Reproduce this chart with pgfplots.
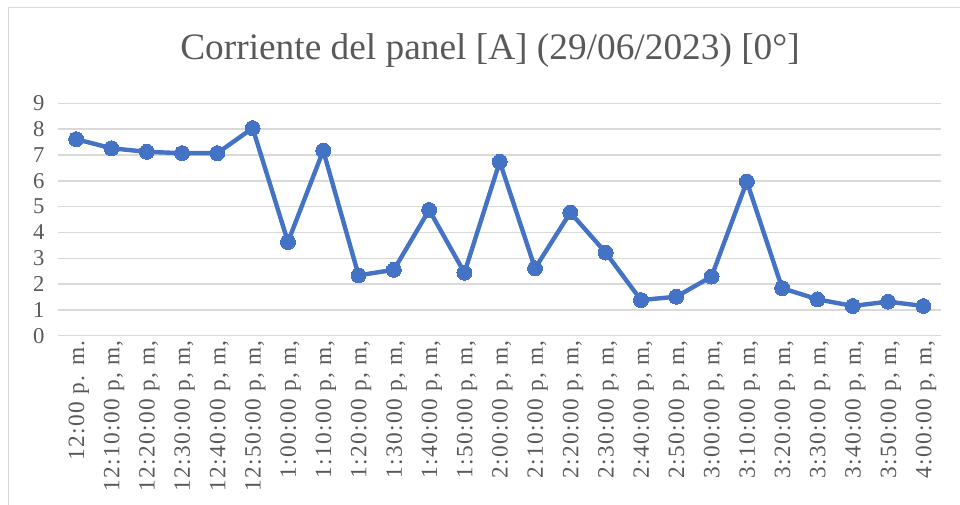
\documentclass[border=0pt]{standalone}
\usepackage{fontspec}
\setmainfont{Liberation Serif}
\newfontfamily\spacedserif[LetterSpace=6]{Liberation Serif}
\usepackage{pgfplots}
\pgfplotsset{compat=1.18}
\definecolor{lineBlue}{HTML}{4472C4}
\definecolor{gridGray}{HTML}{D9D9D9}
\definecolor{txtGray}{HTML}{595959}

\pgfplotstableread{
idx val
0  7.61
1  7.26
2  7.12
3  7.07
4  7.07
5  8.04
6  3.63
7  7.17
8  2.34
9  2.55
10 4.87
11 2.44
12 6.74
13 2.61
14 4.77
15 3.22
16 1.38
17 1.51
18 2.29
19 5.97
20 1.84
21 1.41
22 1.15
23 1.32
24 1.15
}\corriente

\begin{document}
\begin{tikzpicture}[x=0.75pt,y=0.75pt]
\useasboundingbox (0,0) rectangle (960,504);
\draw[gridGray, line width=1.1pt] (8.5,-10) -- (8.5,496.5) -- (970,496.5);
\node[text=txtGray, font=\fontsize{28}{32}\selectfont] at (490,453) {Corriente del panel [A] (29/06/2023) [0°]};
\begin{axis}[
  at={(58.5*0.75pt,168.3*0.75pt)}, anchor=south west,
  scale only axis,
  width=882.5*0.75pt, height=232.4*0.75pt,
  xmin=-0.5, xmax=24.5, ymin=0, ymax=9,
  xtick={0,...,24}, ytick={0,...,9},
  xticklabels={12:00 p. m.,{12:10:00 p, m,},{12:20:00 p, m,},{12:30:00 p, m,},{12:40:00 p, m,},{12:50:00 p, m,},
    {1:00:00 p, m,},{1:10:00 p, m,},{1:20:00 p, m,},{1:30:00 p, m,},{1:40:00 p, m,},{1:50:00 p, m,},
    {2:00:00 p, m,},{2:10:00 p, m,},{2:20:00 p, m,},{2:30:00 p, m,},{2:40:00 p, m,},{2:50:00 p, m,},
    {3:00:00 p, m,},{3:10:00 p, m,},{3:20:00 p, m,},{3:30:00 p, m,},{3:40:00 p, m,},{3:50:00 p, m,},
    {4:00:00 p, m,}},
  x tick label style={rotate=90, anchor=east, font=\spacedserif\fontsize{17.5}{20}\selectfont, text=txtGray},
  y tick label style={font=\fontsize{17}{20}\selectfont, text=txtGray},
  /pgf/number format/assume math mode=true,
  xticklabel style={yshift=-2pt},
  yticklabel style={xshift=-7pt},
  axis line style={draw=none},
  major tick length=0pt,
  ymajorgrids,
  major grid style={gridGray, line width=1.1pt},
  clip=false,
]
\addplot[lineBlue, line width=3.3pt, mark=*, mark size=5.6pt,
  mark options={fill=lineBlue, draw=lineBlue, line width=0pt}]
  table[x=idx, y=val] {\corriente};
\end{axis}
\end{tikzpicture}
\end{document}
